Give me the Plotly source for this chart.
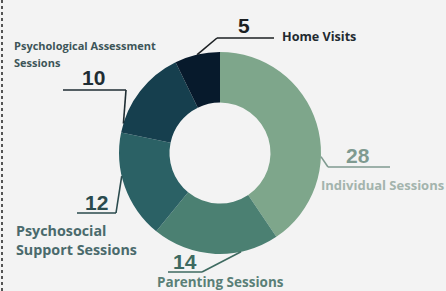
import math
import plotly.graph_objects as go

# ---- data ----
categories = ["Individual Sessions", "Parenting Sessions", "Psychosocial Support Sessions",
              "Psychological Assessment Sessions", "Home Visits"]
values = [28, 14, 12, 10, 5]

# ---- style ----
W, H = 446, 291
slice_colors = ["#7ea68b", "#4b8072", "#2b6165", "#163f4e", "#071a2c"]
num_colors = ["#7f9a90", "#3e6a60", "#2a4a4d", "#1f2d33", "#1b1f22"]
lab_colors = ["#a3b4ad", "#5a7f77", "#4a6a6c", "#3d5558", "#1f2a30"]
BG = "#f3f3f3"
NUM_FONT = "Liberation Sans, Arial, sans-serif"
LAB_FONT = "Open Sans, sans-serif"

# pie geometry (pixels)
CX, CY, R = 220, 153, 101
HOLE = 0.5

def px(x):
    return x / W

def py(y):
    return 1 - y / H

fig = go.Figure(go.Pie(
    labels=categories, values=values, sort=False, direction="clockwise", rotation=0,
    hole=HOLE, marker=dict(colors=slice_colors, line=dict(width=0)),
    textinfo="none", hoverinfo="label+value", showlegend=False,
    domain=dict(x=[px(CX - R), px(CX + R)], y=[py(CY + R), py(CY - R)]),
))

# slice angles (clockwise from 12 o'clock), computed from data
total = sum(values)
cum = 0
starts, ends = [], []
for v in values:
    starts.append(cum / total * 360)
    cum += v
    ends.append(cum / total * 360)

# where along each slice the leader line touches (fraction of slice), style
leader_frac = [0.63, 0.3, 0.6, 0.1, 0.5]

def edge_point(i):
    a = math.radians(starts[i] + (ends[i] - starts[i]) * leader_frac[i])
    return CX + R * math.sin(a), CY - R * math.cos(a)

# leader layouts: (elbow point, end point) in pixels
leaders = [
    ((328, 167), (390, 167)),
    ((202, 272), (168, 272)),
    ((116, 213), (77, 213)),
    ((126, 90), (63, 90)),
    ((217, 38), (274, 38)),
]
shapes = []
for i, (elbow, end) in enumerate(leaders):
    x0, y0 = edge_point(i)
    for (a, b) in [((x0, y0), elbow), (elbow, end)]:
        shapes.append(dict(type="line", xref="paper", yref="paper",
                           x0=px(a[0]), y0=py(a[1]), x1=px(b[0]), y1=py(b[1]),
                           line=dict(color=num_colors[i], width=1.6)))

# dotted left border
shapes.append(dict(type="line", xref="paper", yref="paper", x0=px(2), x1=px(2), y0=0, y1=1,
                   line=dict(color="#555555", width=2, dash="dot")))

# number positions and label positions (pixels)
num_pos = [(358, 155), (185, 261), (96, 202), (93, 78), (244, 25)]
annotations = []
for i, (x, y) in enumerate(num_pos):
    annotations.append(dict(x=px(x), y=py(y), xref="paper", yref="paper", text=f"<b>{values[i]}</b>",
                            showarrow=False, xanchor="center", yanchor="middle",
                            font=dict(family=NUM_FONT, size=21, color=num_colors[i])))

label_specs = [
    # (lines, left/center x, first-line y, line spacing, font size, xanchor)
    (["Individual Sessions"], 319, 185, 0, 13, "left"),
    (["Parenting Sessions"], 220, 282, 0, 13.5, "center"),
    (["Psychosocial", "Support Sessions"], 14, 230, 20, 14.3, "left"),
    (["Psychological Assessment", "Sessions"], 12, 45, 17, 11, "left"),
    (["Home Visits"], 280, 36, 0, 12.6, "left"),
]
for i, (lines, x, y, sp, size, xa) in enumerate(label_specs):
    for k, t in enumerate(lines):
        annotations.append(dict(x=px(x), y=py(y + k * sp), xref="paper", yref="paper", text=f"<b>{t}</b>",
                                showarrow=False, xanchor=xa, yanchor="middle",
                                font=dict(family=LAB_FONT, size=size, color=lab_colors[i])))

fig.update_layout(
    width=W, height=H, margin=dict(l=0, r=0, t=0, b=0),
    paper_bgcolor=BG, plot_bgcolor=BG,
    shapes=shapes, annotations=annotations,
)

fig.write_html("out.html", config={"displayModeBar": False},
               post_script="document.body.style.margin='0';document.body.style.overflow='hidden';")
